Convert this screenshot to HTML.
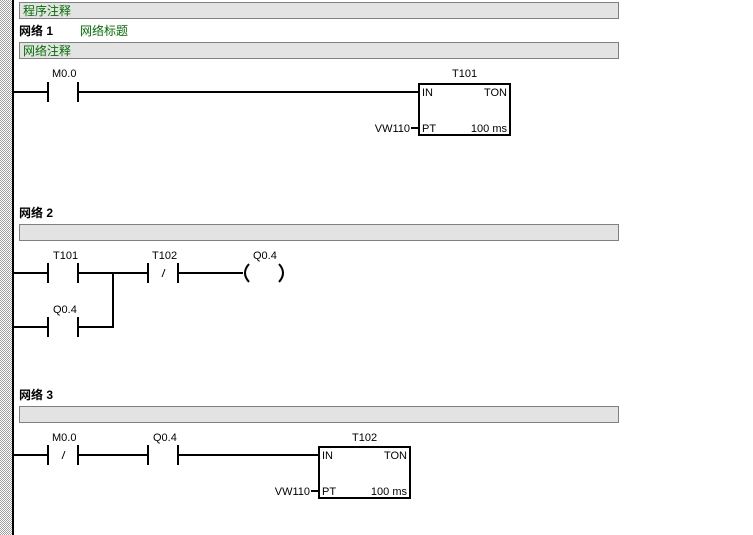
<!DOCTYPE html>
<html><head><meta charset="utf-8"><style>
html,body{margin:0;padding:0;background:#fff;width:753px;height:535px;overflow:hidden}
svg text{font-family:"Liberation Sans","Noto Sans CJK SC",sans-serif;font-size:11px;fill:#000}
.g{fill:#007000}
.b{font-weight:bold;font-size:12px}
</style></head><body>
<svg width="753" height="535" xmlns="http://www.w3.org/2000/svg">
<defs><pattern id="dot" width="2" height="2" patternUnits="userSpaceOnUse"><rect width="2" height="2" fill="#fff"/><rect width="1" height="1" fill="#a0a0a0"/><rect x="1" y="1" width="1" height="1" fill="#a0a0a0"/></pattern></defs>
<rect x="0" y="0" width="12" height="535" fill="url(#dot)"/>
<rect x="12" y="0" width="2" height="535" fill="#000"/>
<!-- bars -->
<g fill="#e3e3e3" stroke="#808080" stroke-width="1">
<rect x="19.5" y="2.5" width="599" height="16"/>
<rect x="19.5" y="42.5" width="599" height="16"/>
<rect x="19.5" y="224.5" width="599" height="16"/>
<rect x="19.5" y="406.5" width="599" height="16"/>
</g>
<text x="23" y="15" class="g" style="font-size:12px">程序注释</text>
<text x="19" y="35" class="b">网络 1</text>
<text x="80" y="35" class="g" style="font-size:12px">网络标题</text>
<text x="23" y="55" class="g" style="font-size:12px">网络注释</text>
<text x="19" y="217" class="b">网络 2</text>
<text x="19" y="399" class="b">网络 3</text>

<g stroke="#000" stroke-width="2" fill="none">
<!-- rung 1 -->
<line x1="14" y1="92" x2="48" y2="92"/><line x1="48" y1="82" x2="48" y2="102"/><line x1="78" y1="82" x2="78" y2="102"/><line x1="78" y1="92" x2="419" y2="92"/>
<rect x="419" y="84" width="91" height="51"/>
<line x1="411" y1="128" x2="419" y2="128"/>
<!-- rung 2 -->
<line x1="14" y1="273" x2="48" y2="273"/><line x1="48" y1="263" x2="48" y2="283"/><line x1="78" y1="263" x2="78" y2="283"/><line x1="78" y1="273" x2="148" y2="273"/>
<line x1="148" y1="263" x2="148" y2="283"/><line x1="178" y1="263" x2="178" y2="283"/><line x1="178" y1="273" x2="243" y2="273"/>
<path d="M249 264 Q241 273 249 282"/><path d="M279 264 Q287 273 279 282"/>
<line x1="14" y1="327" x2="48" y2="327"/><line x1="48" y1="317" x2="48" y2="337"/><line x1="78" y1="317" x2="78" y2="337"/><line x1="78" y1="327" x2="113" y2="327"/><line x1="113" y1="273" x2="113" y2="328"/>
<!-- rung 3 -->
<line x1="14" y1="455" x2="48" y2="455"/><line x1="48" y1="445" x2="48" y2="465"/><line x1="78" y1="445" x2="78" y2="465"/><line x1="78" y1="455" x2="148" y2="455"/>
<line x1="148" y1="445" x2="148" y2="465"/><line x1="178" y1="445" x2="178" y2="465"/><line x1="178" y1="455" x2="319" y2="455"/>
<rect x="319" y="447" width="91" height="51"/>
<line x1="311" y1="491" x2="319" y2="491"/>
</g>
<g stroke="#000" stroke-width="1"><line x1="165" y1="269" x2="162" y2="277"/><line x1="65" y1="451" x2="62" y2="459"/></g>

<text x="52" y="77">M0.0</text>
<text x="452" y="77">T101</text>
<text x="422" y="96">IN</text>
<text x="507" y="96" text-anchor="end">TON</text>
<text x="422" y="132">PT</text>
<text x="507" y="132" text-anchor="end">100 ms</text>
<text x="410" y="132" text-anchor="end">VW110</text>

<text x="53" y="259">T101</text>
<text x="152" y="259">T102</text>
<text x="253" y="259">Q0.4</text>
<text x="53" y="313">Q0.4</text>

<text x="52" y="441">M0.0</text>
<text x="153" y="441">Q0.4</text>
<text x="352" y="441">T102</text>
<text x="322" y="459">IN</text>
<text x="407" y="459" text-anchor="end">TON</text>
<text x="322" y="495">PT</text>
<text x="407" y="495" text-anchor="end">100 ms</text>
<text x="310" y="495" text-anchor="end">VW110</text>
</svg>
</body></html>
